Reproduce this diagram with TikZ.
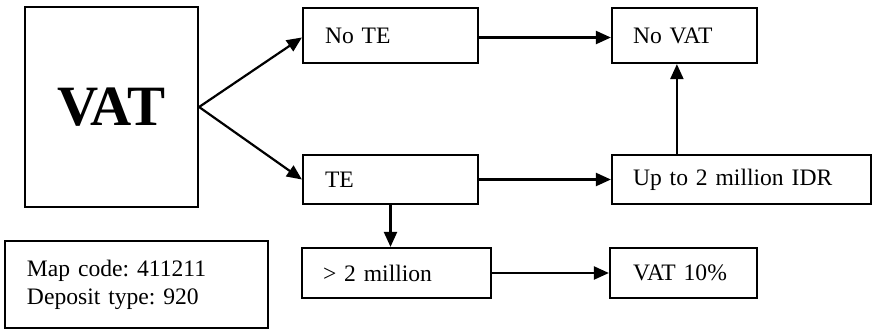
\documentclass[tikz,border=0pt]{standalone}
\usepackage{fontspec}
\setmainfont{Liberation Serif}
\frenchspacing
\usetikzlibrary{arrows.meta,positioning}
\tikzset{
  box/.style={draw, line width=2.2pt, inner ysep=0pt, font=\fontsize{23.6}{28}\selectfont, align=left},
  arr/.style={line width=2.2pt, -{Triangle[length=15pt,width=13pt]}},
}
\begin{document}
\frenchspacing
\begin{tikzpicture}[x=1pt,y=-1pt]
\useasboundingbox (0,0) rectangle (873,330);
% big VAT box
\node[draw, line width=2.2pt, minimum width=173pt, minimum height=200pt, inner sep=0pt,
      font=\bfseries\fontsize{57}{62}\selectfont] (vat) at (111.5,107) {VAT};
% boxes
\node[box, inner xsep=22pt, text width=131pt, minimum height=55pt] (note) at (390.5,35.5) {No TE};
\node[box, inner xsep=22pt, text width=131pt, minimum height=49pt] (te) at (390.5,179.5) {TE};
\node[box, inner xsep=21pt, text width=103pt, minimum height=55pt] (novat) at (684.5,35.5) {No VAT};
\node[box, inner xsep=21pt, text width=217pt, minimum height=49pt] (upto) at (741.5,179.5) {Up to 2 million IDR};
\node[box, inner xsep=21pt, text width=147pt, minimum height=50pt] (gt) at (396.5,273) {> 2 million};
\node[box, inner xsep=23pt, text width=101pt, minimum height=50pt] (vatten) at (683.5,273) {VAT 10\%};
\node[box, inner xsep=22pt, text width=219pt, minimum height=87pt] (map) at (136.5,284.5) {Map code: 411211\\Deposit type: 920};
% connectors
\draw[arr] (vat.east) -- ([yshift=-2pt]note.west);
\draw[arr] (vat.east) -- (te.west);
\draw[arr] ([yshift=-2pt]note.east) -- ([yshift=-2pt]novat.west);
\draw[arr] (te.east) -- (upto.west);
\draw[arr] ([xshift=66pt]upto.north west) -- ([xshift=66pt]novat.south west);
\draw[arr] (te.south) -- (te.south |- gt.north);
\draw[arr] (gt.east) -- (vatten.west);
\end{tikzpicture}
\end{document}
